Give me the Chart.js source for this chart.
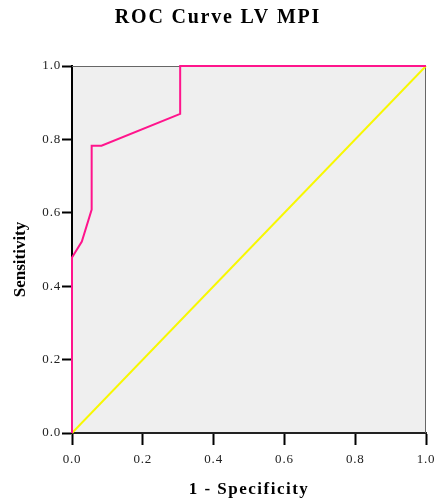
<!DOCTYPE html>
<html>
<head>
<meta charset="utf-8">
<script src="https://cdn.jsdelivr.net/npm/chart.js@4"></script>
<style>
  html, body { margin: 0; padding: 0; background: #fff; }
  #wrap { width: 438px; height: 501px; position: relative; }
</style>
</head>
<body>
<div id="wrap"><canvas id="chart-roc"></canvas></div>
<script>
// ROC curve (23 positives, 36 negatives)
const rocFpr = [0, 0, 1 / 36, 2 / 36, 2 / 36, 3 / 36, 11 / 36, 11 / 36, 1];
const rocTpr = [0, 11 / 23, 12 / 23, 14 / 23, 18 / 23, 18 / 23, 20 / 23, 1, 1];
// reference line
const refX = [0, 1];
const refY = [0, 1];
const tickValues = [0, 0.2, 0.4, 0.6, 0.8, 1.0];

const serif = "'Liberation Serif', 'Times New Roman', serif";

const toPoints = (xs, ys) => xs.map((x, i) => ({ x: x, y: ys[i] }));

// wrap a draw method so its text gets some letter spacing (the source is a bit wide)
function spaced(obj, method, spacing, dy) {
  const orig = obj[method];
  obj[method] = function (...args) {
    const c = this.ctx;
    c.save();
    c.letterSpacing = spacing;
    if (dy) c.translate(0, dy);
    orig.apply(this, args);
    c.restore();
  };
}

const wideText = {
  id: "wideText",
  beforeDraw(chart) {
    if (chart._wide) return;
    spaced(chart.scales.x, "drawLabels", "0.8px");
    spaced(chart.scales.x, "drawTitle", "1.5px");
    spaced(chart.scales.y, "drawLabels", "0.8px");
    spaced(chart.scales.y, "drawTitle", "0px", 10);
    spaced(chart.titleBlock, "draw", "1.8px");
    chart._wide = true;
  },
};

// grey plot background + thin frame on top and right
const plotFrame = {
  id: "plotFrame",
  beforeDraw(chart) {
    const { ctx, chartArea: a } = chart;
    ctx.save();
    ctx.fillStyle = "#efefef";
    ctx.fillRect(a.left, a.top, a.right - a.left, a.bottom - a.top);
    ctx.restore();
  },
  beforeDatasetsDraw(chart) {
    const { ctx, chartArea: a } = chart;
    ctx.save();
    ctx.strokeStyle = "#666";
    ctx.lineWidth = 1;
    ctx.beginPath();
    ctx.moveTo(a.left, a.top + 0.5);
    ctx.lineTo(a.right - 0.5, a.top + 0.5);
    ctx.lineTo(a.right - 0.5, a.bottom);
    ctx.stroke();
    ctx.restore();
  },
};

const ctx = document.getElementById("chart-roc").getContext("2d");
new Chart(ctx, {
  type: "scatter",
  data: {
    datasets: [
      {
        label: "LV MPI",
        data: toPoints(rocFpr, rocTpr),
        showLine: true,
        borderColor: "#ff148c",
        borderWidth: 2,
        pointRadius: 0,
        tension: 0,
        clip: false,
        order: 1,
      },
      {
        label: "Reference Line",
        data: toPoints(refX, refY),
        showLine: true,
        borderColor: "#f8f800",
        borderWidth: 1.9,
        pointRadius: 0,
        clip: false,
        order: 2,
      },
    ],
  },
  options: {
    responsive: true,
    maintainAspectRatio: false,
    animation: false,
    layout: { padding: { left: 10, right: 12, top: 0, bottom: 0 } },
    plugins: {
      legend: { display: false },
      tooltip: { enabled: false },
      title: {
        display: true,
        text: "ROC Curve LV MPI",
        color: "#000",
        font: { family: serif, size: 20, weight: "bold" },
        padding: { top: 6, bottom: 36 },
      },
    },
    scales: {
      x: {
        type: "linear",
        min: 0,
        max: 1,
        afterBuildTicks: (s) => { s.ticks = tickValues.map((v) => ({ value: v })); },
        afterFit: (s) => {
          s.height = 68;
          s.paddingLeft = 0;
          s.paddingRight = 0;
        },
        ticks: {
          color: "#222",
          font: { family: serif, size: 13 },
          padding: 7,
          callback: (v) => v.toFixed(1),
        },
        grid: {
          drawOnChartArea: false,
          drawTicks: true,
          tickLength: 12,
          tickWidth: 2,
          tickColor: "#000",
        },
        border: { color: "#222", width: 2 },
        title: {
          display: true,
          text: "1 - Specificity",
          color: "#000",
          font: { family: serif, size: 17, weight: "bold" },
          padding: { top: 0, bottom: 1 },
        },
      },
      y: {
        type: "linear",
        min: 0,
        max: 1,
        afterBuildTicks: (s) => { s.ticks = tickValues.map((v) => ({ value: v })); },
        afterFit: (s) => {
          s.width = 62;
          s.paddingTop = 0;
          s.paddingBottom = 0;
        },
        ticks: {
          color: "#222",
          font: { family: serif, size: 13 },
          padding: 1,
          callback: (v) => v.toFixed(1),
        },
        grid: {
          drawOnChartArea: false,
          drawTicks: true,
          tickLength: 10,
          tickWidth: 2,
          tickColor: "#000",
        },
        border: { color: "#000", width: 2 },
        title: {
          display: true,
          text: "Sensitivity",
          color: "#000",
          font: { family: serif, size: 17, weight: "bold" },
          padding: { top: 0, bottom: 0 },
        },
      },
    },
  },
  plugins: [wideText, plotFrame],
});
</script>
</body>
</html>
